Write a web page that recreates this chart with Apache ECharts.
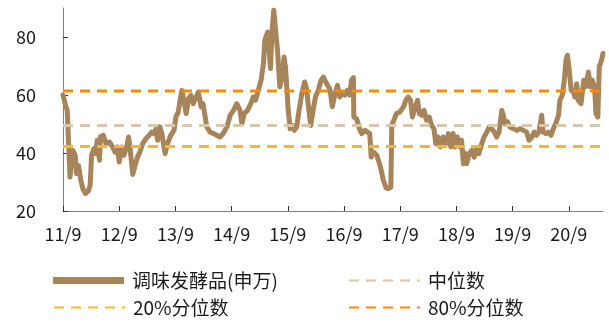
<!DOCTYPE html>
<html>
<head>
<meta charset="utf-8">
<script src="https://cdn.jsdelivr.net/npm/echarts@6/dist/echarts.min.js"></script>
<style>
    html, body { margin: 0; padding: 0; background: #fff; }
    #chart { width: 609px; height: 322px; }
</style>
</head>
<body>
<div id="chart"></div>
<script>

// months since 2011/9
var months = [
    0, 0.6, 0.9, 1.5, 2.1, 2.6, 2.9, 3.3, 3.8, 4.3, 4.8, 5.4, 5.8, 6.1, 6.6, 7.0, 7.3, 7.8, 8.0, 8.6,
    9.2, 9.9, 10.6, 11.1, 11.6, 12.0, 12.5, 13.0, 13.6, 14.0, 14.3, 14.9, 15.4, 15.9, 16.4, 17.0, 17.7, 18.4, 18.9, 19.4,
    19.9, 20.2, 20.7, 21.1, 21.8, 22.3, 23.0, 23.7, 24.1, 24.6, 25.0, 25.4, 25.8, 26.3, 26.8, 27.3, 27.8, 28.2, 28.9, 29.5,
    29.9, 30.7, 31.4, 32.1, 32.8, 33.5, 34.2, 35.0, 35.7, 36.4, 37.1, 37.8, 38.2, 38.7, 39.4, 40.1, 40.6, 41.1, 41.7, 42.3,
    42.8, 43.1, 43.7, 44.0, 44.3, 44.6, 45.0, 45.3, 45.8, 46.3, 46.8, 47.2, 47.5, 48.1, 48.5, 49.0, 49.4, 49.9, 50.4, 51.0,
    51.6, 52.0, 52.5, 52.9, 53.4, 53.9, 54.5, 55.1, 55.6, 56.1, 56.7, 57.0, 57.5, 58.1, 58.6, 59.1, 59.7, 60.2, 60.7, 61.2,
    61.6, 62.0, 62.1, 62.7, 63.3, 63.8, 64.5, 65.0, 65.5, 65.8, 66.3, 67.0, 67.7, 68.1, 68.4, 69.0, 69.5, 70.0, 70.2, 70.5,
    71.2, 71.9, 72.7, 73.2, 73.7, 74.2, 74.6, 75.2, 75.7, 76.1, 76.6, 77.1, 77.6, 78.2, 78.7, 79.2, 79.6, 80.1, 80.6, 81.2,
    81.8, 82.3, 82.8, 83.3, 83.7, 84.2, 84.8, 85.1, 85.5, 85.8, 86.2, 86.7, 87.3, 87.8, 88.3, 88.8, 89.4, 89.9, 90.5, 91.0,
    91.5, 92.1, 92.6, 93.1, 93.7, 94.0, 94.4, 94.9, 95.4, 96.2, 96.9, 97.6, 98.3, 99.0, 99.5, 100.1, 100.6, 101.1, 101.6, 102.2,
    102.5, 103.1, 103.6, 104.2, 104.7, 105.2, 105.8, 106.1, 106.6, 107.0, 107.4, 107.7, 108.1, 108.5, 109.0, 109.3, 109.7, 110.0, 110.6, 110.9,
    111.2, 111.6, 112.2, 112.6, 113.0, 113.5, 113.8, 114.2, 114.5, 115.0, 115.3
];

var values = [
    60, 56.1, 54.7, 31.7, 40.9, 39.2, 32.9, 35.7, 30.6, 27.4, 26, 26.9, 28.9, 39.2, 41.5, 39.8, 44.4, 37.5, 45.7, 46.1,
    43.2, 43.8, 42.1, 40.3, 42.1, 36.9, 42.1, 39.2, 42.1, 45.5, 42.1, 32.6, 35.7, 38.6, 40.3, 43.2, 44.9, 46.1, 47.2, 46.7,
    48.4, 44.4, 49, 46.7, 39.8, 43.2, 46.1, 47.8, 52.4, 54.1, 58.2, 61.6, 58.2, 53.6, 58.7, 59.9, 57.0, 58.5, 61, 55.9,
    57, 49, 47.2, 46.7, 46.1, 45.5, 46.7, 49, 53, 54.7, 57, 54.7, 50.1, 53.6, 54.7, 57, 59.3, 58.2, 61.6, 65.1,
    70.8, 78.9, 81.7, 75.4, 69.1, 81.1, 89.2, 89.8, 75.4, 62.8, 66.2, 73.1, 69.7, 54.7, 48.4, 49.5, 47.8, 49, 54.7, 60.5,
    64.5, 62.2, 54.7, 49.5, 54.7, 59.3, 61.6, 65.1, 66.2, 64.5, 62.8, 62, 56, 60.5, 63.3, 59.3, 60.5, 60, 61.6, 60,
    65.1, 66.0, 52.4, 51.8, 48.4, 46.7, 47.8, 47.2, 46.7, 38.6, 40.3, 39.2, 35.7, 32.9, 30.6, 28, 27.7, 28.2, 49.5, 48.9,
    53.6, 54.1, 55.9, 58.2, 59.3, 58.2, 52.4, 55.9, 58.2, 53.6, 53, 54.7, 51.3, 52.4, 49.5, 48.4, 43.2, 45.5, 42.1, 45.5,
    43.2, 46.7, 42.1, 46.7, 42.1, 45.5, 42.1, 44.4, 36.3, 40, 36.3, 39.8, 40.9, 38.6, 41.5, 39.8, 43.2, 45.5, 47.2, 49,
    48.4, 47.2, 45.5, 47.2, 54.7, 53, 50.1, 50.7, 49, 48.4, 47.8, 48.4, 47.8, 47.2, 44.4, 45.5, 47.2, 46.1, 47.2, 53,
    47.2, 46.7, 47.2, 46.1, 48.4, 50.1, 53, 58.2, 59.9, 64.5, 72, 73.7, 68.5, 61.6, 61, 59.3, 63.9, 58.2, 57, 56.5,
    65.1, 62.8, 67.9, 62.8, 65.1, 62.8, 53.6, 52.4, 69.7, 72, 74.3
];

var tickMonths = [0, 12, 24, 36, 48, 60, 72, 84, 96, 108];
var tickLabels = ['11/9', '12/9', '13/9', '14/9', '15/9', '16/9', '17/9', '18/9', '19/9', '20/9'];
var yTicks = [20, 40, 60, 80];

var p20 = 42.2;
var median = 49.5;
var p80 = 61.4;

var xMax = 115.3;

var font = '"Noto Sans CJK SC", "Noto Sans", sans-serif';

var lineData = [];
for (var i = 0; i < months.length; i++) {
    lineData.push([months[i], values[i]]);
}

function flat(v) {
    return [[0, v], [xMax, v]];
}

// one legend block per item so each sits where the reference puts it
function legendAt(left, top, item) {
    return {
        left: left,
        top: top,
        itemWidth: 71,
        itemHeight: 14,
        textStyle: { fontSize: 19, color: '#1a1a1a', padding: [0, 0, 0, 3], fontFamily: font },
        data: [item]
    };
}

var noSymbol = { opacity: 0 };

var myChart = echarts.init(document.getElementById('chart'));

var option = {
    animation: false,
    backgroundColor: '#fff',
    textStyle: { fontFamily: font },
    grid: {
        left: 63,
        right: 6,
        top: 8,
        bottom: 111
    },
    legend: [
        legendAt(48, 266, { name: '调味发酵品(申万)', icon: 'path://M0,0 L10,0 L10,1 L0,1 Z' }),
        legendAt(343, 266, { name: '中位数', itemStyle: noSymbol }),
        legendAt(48, 293, { name: '20%分位数', itemStyle: noSymbol }),
        legendAt(343, 293, { name: '80%分位数', itemStyle: noSymbol })
    ],
    xAxis: {
        type: 'value',
        min: 0,
        max: xMax,
        interval: 12,
        axisLine: { show: true, lineStyle: { color: '#808080', width: 1 } },
        axisTick: {
            show: true,
            inside: true,
            length: 5,
            customValues: tickMonths,
            lineStyle: { color: '#333' }
        },
        axisLabel: {
            customValues: tickMonths,
            margin: 14,
            fontSize: 18,
            color: '#1a1a1a',
            fontFamily: font,
            formatter: function (v) {
                var idx = tickMonths.indexOf(Math.round(v));
                return idx >= 0 ? tickLabels[idx] : '';
            }
        },
        splitLine: { show: false }
    },
    yAxis: {
        type: 'value',
        min: 20,
        max: 90,
        interval: 20,
        axisLine: { show: true, lineStyle: { color: '#808080', width: 1 } },
        axisTick: {
            show: true,
            inside: true,
            length: 5,
            customValues: yTicks,
            lineStyle: { color: '#333' }
        },
        axisLabel: {
            customValues: yTicks,
            margin: 27,
            fontSize: 18,
            color: '#1a1a1a',
            fontFamily: font
        },
        splitLine: { show: false }
    },
    series: [
        {
            name: '调味发酵品(申万)',
            type: 'line',
            showSymbol: false,
            symbol: 'none',
            color: '#A7845A',
            lineStyle: { color: '#A7845A', width: 5, join: 'round', cap: 'round' },
            data: lineData
        },
        {
            name: '中位数',
            type: 'line',
            symbol: 'none',
            color: '#D8C8A4',
            lineStyle: { color: '#D8C8A4', width: 3, type: [10, 7] },
            data: flat(median)
        },
        {
            name: '20%分位数',
            type: 'line',
            symbol: 'none',
            color: '#FBB62F',
            lineStyle: { color: '#FBB62F', width: 3, type: [10, 7] },
            data: flat(p20)
        },
        {
            name: '80%分位数',
            type: 'line',
            symbol: 'none',
            color: '#FA8C00',
            lineStyle: { color: '#FA8C00', width: 3, type: [10, 7] },
            data: flat(p80)
        }
    ]
};

myChart.setOption(option);

</script>
</body>
</html>
